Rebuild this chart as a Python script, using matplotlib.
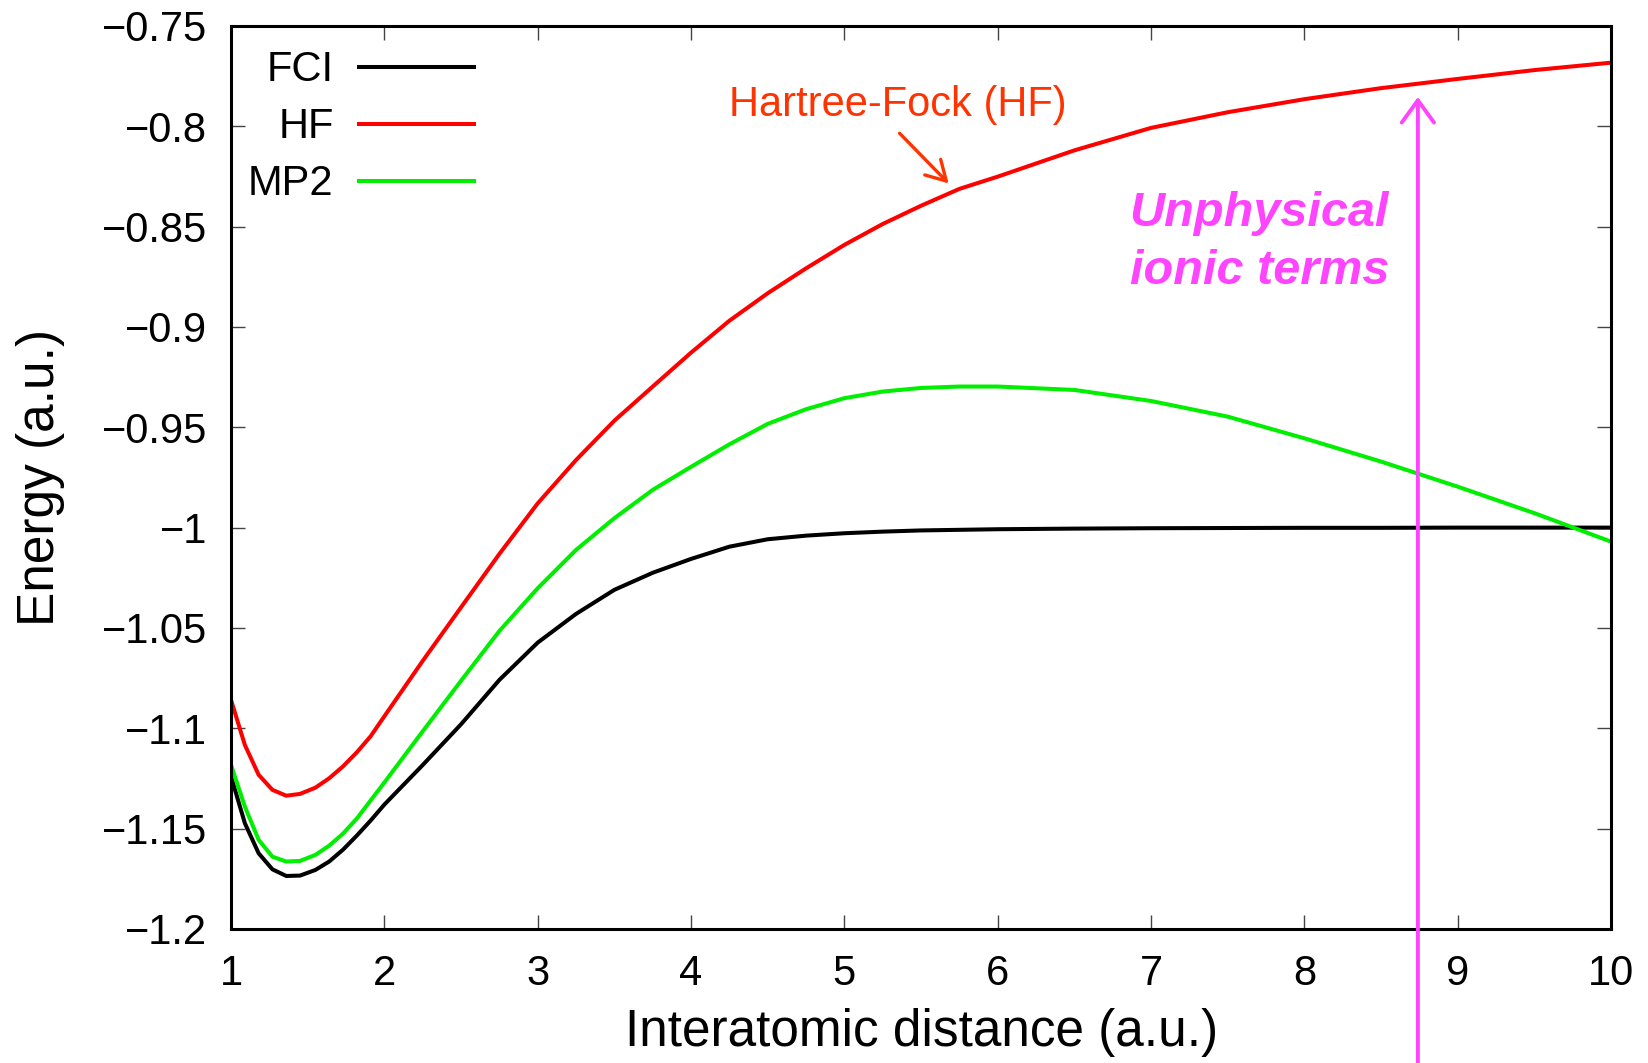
import matplotlib
matplotlib.use('Agg')
import matplotlib.pyplot as plt

plt.rcParams['font.family'] = ['Liberation Sans', 'DejaVu Sans']

# interatomic distance (a.u.)
r = [1.0, 1.09, 1.18, 1.27, 1.36, 1.45, 1.55, 1.64, 1.73, 1.82, 1.91, 2.0,
     2.25, 2.5, 2.75, 3.0, 3.25, 3.5, 3.75, 4.0, 4.25, 4.5, 4.75, 5.0,
     5.25, 5.5, 5.75, 6.0, 6.5, 7.0, 7.5, 8.0, 8.5, 9.0, 9.5, 10.0]

fci = [-1.1240, -1.1473, -1.1623, -1.1703, -1.1736, -1.1734, -1.1706, -1.1664, -1.1605, -1.1535, -1.1460, -1.1380,
       -1.1183, -1.0980, -1.0759, -1.0573, -1.0430, -1.0310, -1.0225, -1.0156, -1.0095, -1.0058, -1.0040, -1.0028,
       -1.0020, -1.0014, -1.0011, -1.0008, -1.0005, -1.0003, -1.0002, -1.0001, -1.0001, -1.0000, -1.0000, -1.0000]

hf = [-1.0859, -1.1083, -1.1232, -1.1307, -1.1336, -1.1327, -1.1296, -1.1249, -1.1190, -1.1120, -1.1040, -1.0940,
      -1.0664, -1.0397, -1.0131, -0.9879, -0.9663, -0.9467, -0.9297, -0.9128, -0.8969, -0.8832, -0.8708, -0.8591,
      -0.8487, -0.8396, -0.8312, -0.8251, -0.8120, -0.8008, -0.7930, -0.7865, -0.7810, -0.7764, -0.7720, -0.7683]

mp2 = [-1.1183, -1.1390, -1.1556, -1.1640, -1.1664, -1.1661, -1.1631, -1.1585, -1.1525, -1.1450, -1.1360, -1.1270,
       -1.1015, -1.0763, -1.0515, -1.0302, -1.0111, -0.9953, -0.9812, -0.9697, -0.9585, -0.9483, -0.9410, -0.9355,
       -0.9322, -0.9304, -0.9297, -0.9297, -0.9314, -0.9369, -0.9447, -0.9555, -0.9671, -0.9796, -0.9928, -1.0070]

yticks = [-0.75, -0.8, -0.85, -0.9, -0.95, -1.0, -1.05, -1.1, -1.15, -1.2]
ylabels = ['\u22120.75', '\u22120.8', '\u22120.85', '\u22120.9', '\u22120.95',
           '\u22121', '\u22121.05', '\u22121.1', '\u22121.15', '\u22121.2']
xticks = [1, 2, 3, 4, 5, 6, 7, 8, 9, 10]

fig = plt.figure(figsize=(8.24, 5.315), dpi=200)
ax = fig.add_axes([0.1402, 0.1261, 0.8374, 0.8495])

ax.plot(r, fci, color='black', lw=1.45, label='FCI')
ax.plot(r, hf, color='#ff0000', lw=1.45, label='HF')
ax.plot(r, mp2, color='#00ee00', lw=1.45, label='MP2')

ax.set_xlim(1, 10)
ax.set_ylim(-1.2, -0.75)
ax.set_xticks(xticks)
ax.set_xticklabels([str(t) for t in xticks])
ax.set_yticks(yticks)
ax.set_yticklabels(ylabels)
ax.tick_params(direction='in', length=5, width=0.5, color='#444444',
               labelsize=15, top=True, right=True)
ax.tick_params(axis='y', pad=8.5)
ax.tick_params(axis='x', pad=9)
for s in ax.spines.values():
    s.set_linewidth(1.1)

ax.set_xlabel('Interatomic distance (a.u.)', fontsize=18.5)
ax.set_ylabel('Energy (a.u.)', fontsize=18.5)
ax.xaxis.set_label_coords(0.5, -0.088)
ax.yaxis.set_label_coords(-0.12, 0.5)

ax.legend(loc='upper left', bbox_to_anchor=(0.0123, 0.973), frameon=False,
          markerfirst=False, fontsize=15, handlelength=2.78, handletextpad=0.6,
          labelspacing=0.41, borderpad=0, borderaxespad=0)

# annotations
ax.text(5.351, -0.7894, 'Hartree-Fock (HF)', color='#ff3300', fontsize=15,
        ha='center', va='center')
ax.annotate('', xy=(5.68, -0.8285), xytext=(5.36, -0.8035),
            arrowprops=dict(arrowstyle='->,head_length=0.7,head_width=0.4',
                            color='#ff3300', lw=1.2, shrinkA=0, shrinkB=0))

ax.text(7.706, -0.8433, 'Unphysical', color='#ff44ff', fontsize=17.5,
        fontweight='bold', style='italic', ha='center', va='center')
ax.text(7.706, -0.8722, 'ionic terms', color='#ff44ff', fontsize=17.5,
        fontweight='bold', style='italic', ha='center', va='center')
ax.annotate('', xy=(8.74, -0.7854), xycoords='data',
            xytext=(8.74, 0.0), textcoords=('data', 'figure fraction'),
            arrowprops=dict(arrowstyle='->,head_length=0.8,head_width=0.58',
                            color='#ff44ff', lw=1.4, shrinkA=0, shrinkB=0),
            annotation_clip=False)

fig.savefig('out.png', dpi=200)
